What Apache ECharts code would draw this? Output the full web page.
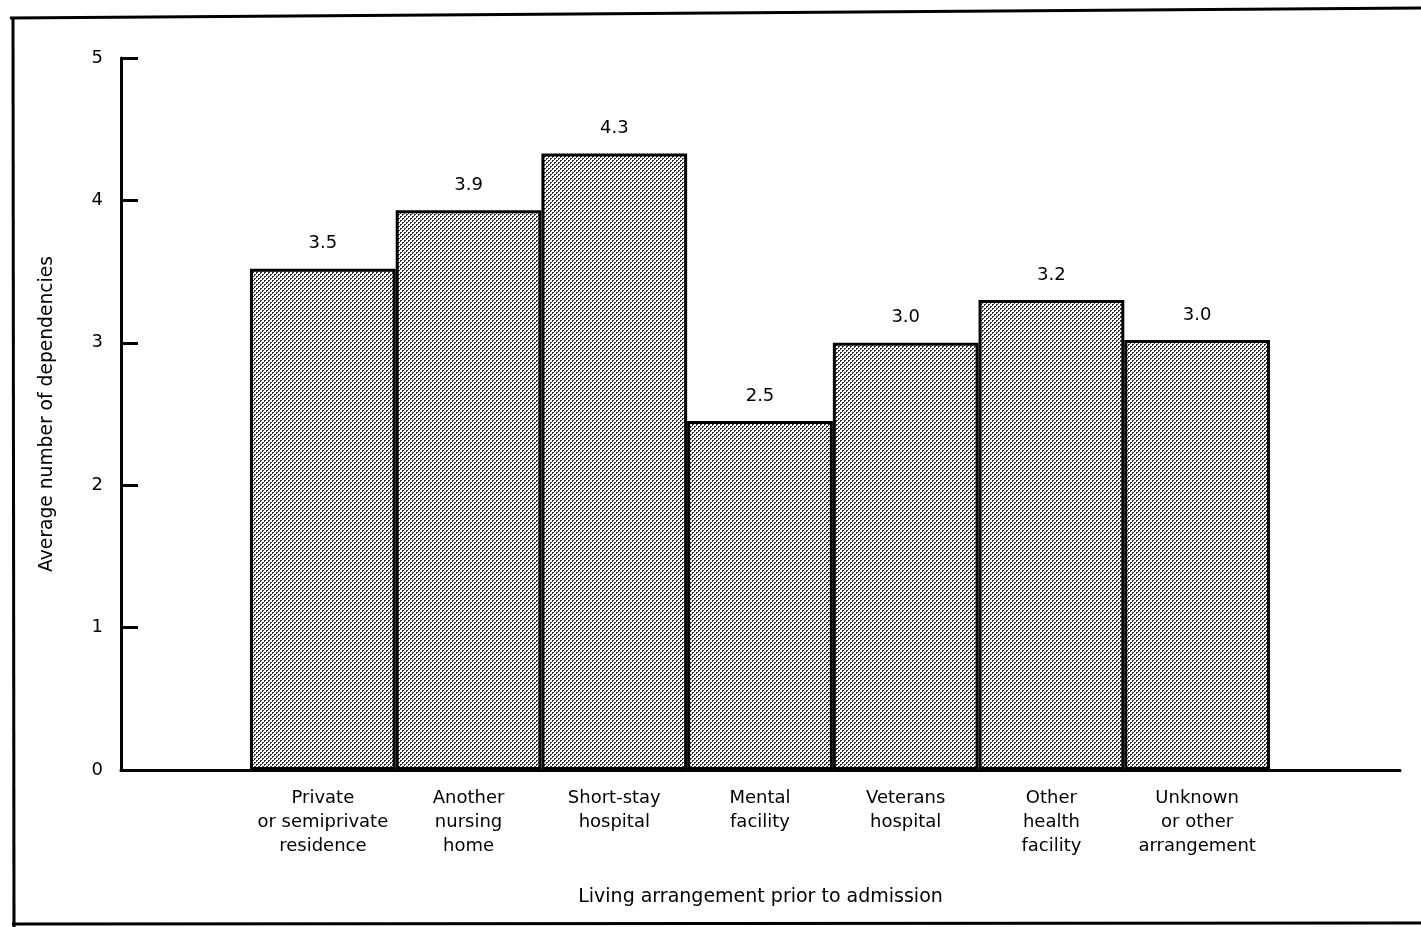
<!DOCTYPE html>
<html>
<head>
<meta charset="utf-8">
<script src="https://cdn.jsdelivr.net/npm/echarts@6/dist/echarts.min.js"></script>
<style>
html,body{margin:0;padding:0;background:#fff;}
#chart{width:1421px;height:927px;}
</style>
</head>
<body>
<div id="chart"></div>
<script>
// Data
var categories = [
  'Private\nor semiprivate\nresidence',
  'Another\nnursing\nhome',
  'Short-stay\nhospital',
  'Mental\nfacility',
  'Veterans\nhospital',
  'Other\nhealth\nfacility',
  'Unknown\nor other\narrangement'
];
var values = [3.52, 3.93, 4.33, 2.45, 3.0, 3.3, 3.02];
var valueLabels = ['3.5', '3.9', '4.3', '2.5', '3.0', '3.2', '3.0'];
var yTicks = [0, 1, 2, 3, 4, 5];

var FONT = '"DejaVu Sans", Verdana, sans-serif';

// Halftone dot pattern
var pc = document.createElement('canvas');
pc.width = 4; pc.height = 4;
var pctx = pc.getContext('2d');
pctx.fillStyle = '#ffffff';
pctx.fillRect(0, 0, 4, 4);
pctx.fillStyle = '#333333';
[[0,0],[1,0],[0,1],[2,2],[3,2],[2,3]].forEach(function (p) { pctx.fillRect(p[0], p[1], 1, 1); });

var chart = echarts.init(document.getElementById('chart'), null, {renderer: 'canvas'});

var option = {
  backgroundColor: '#ffffff',
  animation: false,
  textStyle: {fontFamily: FONT, color: '#000'},
  grid: [
    {left: 121, right: 21, top: 58, bottom: 157, containLabel: false},
    {left: 250, right: 151, top: 58, bottom: 157, containLabel: false}
  ],
  xAxis: [
    {
      gridIndex: 0, type: 'value', min: 0, max: 1,
      axisLine: {show: true, onZero: false, lineStyle: {color: '#000', width: 3}},
      axisTick: {show: false}, axisLabel: {show: false}, splitLine: {show: false},
      name: 'Living arrangement prior to admission',
      nameLocation: 'middle', nameGap: 118,
      nameTextStyle: {fontFamily: FONT, fontSize: 19, color: '#000'}
    },
    {
      gridIndex: 1, type: 'category', data: categories,
      boundaryGap: true,
      axisLine: {show: false}, axisTick: {show: false},
      axisLabel: {
        interval: 0, margin: 16, fontFamily: FONT, fontSize: 18,
        lineHeight: 24, color: '#000', align: 'center'
      }
    }
  ],
  yAxis: [
    {
      gridIndex: 0, type: 'value', min: 0, max: 5, interval: 1,
      axisLine: {show: true, lineStyle: {color: '#000', width: 3}},
      axisTick: {show: true, inside: true, length: 17, lineStyle: {color: '#000', width: 3}},
      axisLabel: {
        margin: 18, fontFamily: FONT, fontSize: 18, color: '#000',
        formatter: function (v) { return yTicks.indexOf(v) >= 0 ? String(v) : ''; }
      },
      splitLine: {show: false},
      name: 'Average number of dependencies',
      nameLocation: 'middle', nameGap: 64, nameRotate: 90,
      nameTextStyle: {fontFamily: FONT, fontSize: 18.7, color: '#000'}
    },
    {
      gridIndex: 1, type: 'value', min: 0, max: 5, interval: 1,
      show: false
    }
  ],
  series: [
    {
      type: 'bar',
      xAxisIndex: 1, yAxisIndex: 1,
      data: values,
      barCategoryGap: '0%',
      barWidth: '100%',
      itemStyle: {
        color: {image: pc, repeat: 'repeat'},
        borderColor: '#000',
        borderWidth: 3
      },
      label: {
        show: true, position: 'top', distance: 16,
        fontFamily: FONT, fontSize: 18, color: '#000',
        formatter: function (p) { return valueLabels[p.dataIndex]; }
      }
    }
  ],
  graphic: [
    {type: 'line', shape: {x1: 10, y1: 18, x2: 1421, y2: 8}, style: {stroke: '#000', lineWidth: 3}},
    {type: 'line', shape: {x1: 13, y1: 17, x2: 14, y2: 927}, style: {stroke: '#000', lineWidth: 3}},
    {type: 'line', shape: {x1: 12, y1: 924, x2: 1421, y2: 923}, style: {stroke: '#000', lineWidth: 3}}
  ]
};
chart.setOption(option);
</script>
</body>
</html>
